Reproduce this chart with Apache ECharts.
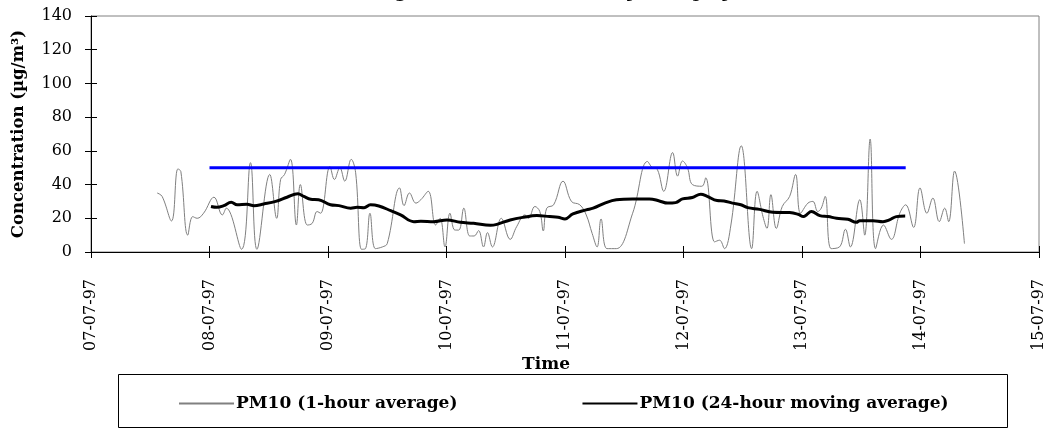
<!DOCTYPE html>
<html>
<head>
<meta charset="utf-8">
<script src="https://cdn.jsdelivr.net/npm/echarts@6/dist/echarts.min.js"></script>
<style>
html,body{margin:0;padding:0;background:#fff;}
#chart{width:1056px;height:428px;}
</style>
</head>
<body>
<div id="chart"></div>
<script>
// Tick labels for the time axis (one per day, axis in hours from 07-07-97 00:00)
const dayLabels = ['07-07-97','08-07-97','09-07-97','10-07-97','11-07-97','12-07-97','13-07-97','14-07-97','15-07-97'];
const yTicks = [0,20,40,60,80,100,120,140];

// PM10 1-hour average: hours since 07-07-97 00:00 and concentration (µg/m³)
const hourlyTimes = [
  13.4,14.4,16.3,17.6,18.2,19.6,20.6,21.5,22.8,24.9,
  26.6,27.4,30.5,32.3,33.6,36.2,37.6,38.4,39.2,40.4,
  41.6,42.4,43.8,44.8,45.8,46.5,48.4,49.3,50.4,51.4,
  52.7,53.6,54.8,55.6,56.5,57.6,59.0,60.0,62.5,63.4,
  64.5,65.8,66.8,68.3,69.8,70.7,71.7,72.7,73.7,74.5,
  75.5,76.7,77.6,78.5,79.5,80.3,81.3,83.1,84.9,86.2,
  87.9,88.6,89.9,90.9,91.6,92.3,93.7,95.6,97.3,99.0,
  100.3,101.5,102.5,103.3,104.5,106.4,109.7,112.7,113.7,114.7,
  116.0,117.8,118.8,119.8,120.8,121.8,123.7,124.5,126.3,127.3,
  128.3,129.6,131.7,133.8,134.9,136.1,136.9,137.7,138.8,140.0,
  141.5,142.7,143.7,145.2,146.2,147.2,147.9,148.7,149.9,151.6,
  152.8,153.8,155.7,156.7,157.8,158.9,160.5,162.1,163.8,165.0,
  166.6,167.9,169.3,170.5,171.8,172.9,173.7,174.9,176.9
];
const hourlyValues = [
  35,33,18.4,49.3,47.7,10,21,20,23,32.5,
  22,26,1.6,53,1.6,46,20,43,46,55,
  16,40,16,17,24,23,50.7,43,50,42,
  55,47,1.6,2,23,2,3,5,38,27.5,
  35,29,31,36,16,20,3,23,13,13,
  26,9.5,9.5,12.7,3,11.5,3,20,7.5,15,
  22,20,27,24,12.5,26,28,42,30,28,
  22,11,3,19.6,2,2,23,53.7,50,49,
  36,59,45,54,50,40,39,44,6,7,
  2,16,63,2,36,21,14,34,14,27,
  33,46,23,29,30,24,26,33,2,3,
  13.5,3,31,10,67,2,16,7.5,23,28,
  14.6,38,23,32,18,26,18,48,5
];

// PM10 24-hour moving average
const movingTimes = [
  24.3,25.5,26.9,28.4,29.6,31.6,33.0,35.0,37.4,39.7,
  41.9,43.1,44.5,46.1,48.5,50.2,52.6,53.9,55.3,56.6,
  58.3,60.7,62.7,65.4,66.8,69.4,72.1,74.8,77.5,80.9,
  82.2,84.9,87.6,90.3,92.9,94.6,96.0,97.6,100.3,101.7,
  104.3,106.4,109.7,113.1,115.1,116.8,118.4,119.8,121.8,123.5,
  124.8,126.8,128.2,129.9,131.6,133.0,135.4,138.1,141.5,143.2,
  144.3,144.9,145.9,147.6,149.3,151.0,153.3,155.0,155.7,158.4,
  160.4,161.7,163.1,164.9
];
const movingValues = [
  27,26.5,27.5,29.5,28,28.3,27.5,28.5,30,32.5,
  34.5,33,31.3,31,28,27.5,26,26.5,26.3,28,
  27.3,24.5,22,18,18.2,18,19,17.6,17,15.8,
  16.4,19,20.6,21.6,21,20.6,19.6,22.6,25,26,
  29.3,31,31.5,31.5,30.3,29,29.3,31.5,32.3,34.3,
  33,30.5,30.3,29,28,26.3,25.3,23.6,23.4,22.4,
  21,22,24,21.6,21,20,19.4,17.6,18.6,18.6,
  18,19,21,21.4
];

// Limit value line (50 µg/m³)
const limitTimes = [24, 165];
const limitValues = [50, 50];

const zip = (a, b) => a.map((t, i) => [t, b[i]]);

const serif = 'DejaVu Serif';
const chart = echarts.init(document.getElementById('chart'), null, {renderer: 'canvas'});

const option = {
  backgroundColor: '#ffffff',
  animation: false,
  title: {
    text: 'Monitoring station, summer survey, 7-14 July 1997',
    left: 300,
    top: -16,
    padding: 0,
    textStyle: {fontFamily: serif, fontSize: 17, fontWeight: 'bold', fontStyle: 'italic', color: '#000'}
  },
  grid: {
    left: 91, right: 17, top: 16, bottom: 176,
    show: true, borderColor: '#808080', borderWidth: 1, backgroundColor: 'transparent'
  },
  legend: {
    left: 178, top: 395,
    padding: 0,
    itemWidth: 55, itemHeight: 14, itemGap: 124,
    itemStyle: {opacity: 0},
    data: ['PM10 (1-hour average)', 'PM10 (24-hour moving average)'],
    textStyle: {fontFamily: serif, fontSize: 17, fontWeight: 'bold', color: '#000', padding: [0,0,0,-3]}
  },
  xAxis: [{
    type: 'value', min: 0, max: 192, interval: 24,
    axisLine: {show: true, lineStyle: {color: '#000', width: 1}},
    axisTick: {show: true, inside: false, length: 6, lineStyle: {color: '#000'}},
    splitLine: {show: false},
    axisLabel: {
      rotate: 90, margin: 27, color: '#000', fontFamily: serif, fontSize: 16,
      formatter: v => dayLabels[Math.round(v / 24)]
    }
  }, {
    type: 'value', min: 0, max: 192, interval: 24, position: 'bottom',
    axisLine: {show: false},
    axisTick: {show: true, inside: true, length: 6, lineStyle: {color: '#000'}},
    splitLine: {show: false}, axisLabel: {show: false}
  }],
  yAxis: [{
    type: 'value', min: yTicks[0], max: yTicks[yTicks.length - 1], interval: 20,
    name: 'Concentration (µg/m³)', nameLocation: 'middle', nameGap: 64,
    nameTextStyle: {fontFamily: serif, fontSize: 16.5, fontWeight: 'bold', color: '#000'},
    axisLine: {show: true, lineStyle: {color: '#000', width: 1}},
    axisTick: {show: true, inside: false, length: 6, lineStyle: {color: '#000'}},
    splitLine: {show: false},
    axisLabel: {margin: 19, color: '#000', fontFamily: serif, fontSize: 16}
  }, {
    type: 'value', min: 0, max: 140, interval: 20, position: 'left',
    axisLine: {show: false},
    axisTick: {show: true, inside: true, length: 6, lineStyle: {color: '#000'}},
    splitLine: {show: false}, axisLabel: {show: false}
  }],
  series: [{
    name: 'PM10 (1-hour average)',
    type: 'line', xAxisIndex: 0, yAxisIndex: 0,
    data: zip(hourlyTimes, hourlyValues),
    showSymbol: false, symbol: 'none', smooth: 0.4,
    lineStyle: {color: '#808080', width: 1},
    itemStyle: {color: '#808080'}, z: 2
  }, {
    name: 'PM10 (24-hour moving average)',
    type: 'line', xAxisIndex: 0, yAxisIndex: 0,
    data: zip(movingTimes, movingValues),
    showSymbol: false, symbol: 'none', smooth: 0.4,
    lineStyle: {color: '#000000', width: 3},
    itemStyle: {color: '#000000'}, z: 4
  }, {
    name: 'Limit value',
    type: 'line', xAxisIndex: 0, yAxisIndex: 0,
    data: zip(limitTimes, limitValues),
    showSymbol: false, symbol: 'none',
    lineStyle: {color: '#0000ff', width: 3},
    itemStyle: {color: '#0000ff'}, z: 3
  }],
  graphic: [{
    type: 'rect', silent: true, z: 0,
    shape: {x: 118.5, y: 374.5, width: 889, height: 53},
    style: {fill: 'none', stroke: '#000', lineWidth: 1}
  }, {
    type: 'text', silent: true, z: 1,
    x: 546, y: 373,
    style: {text: 'Time', fontFamily: serif, fontSize: 17, fontWeight: 'bold', fill: '#000', align: 'center', verticalAlign: 'bottom'}
  }]
};
chart.setOption(option);
</script>
</body>
</html>
